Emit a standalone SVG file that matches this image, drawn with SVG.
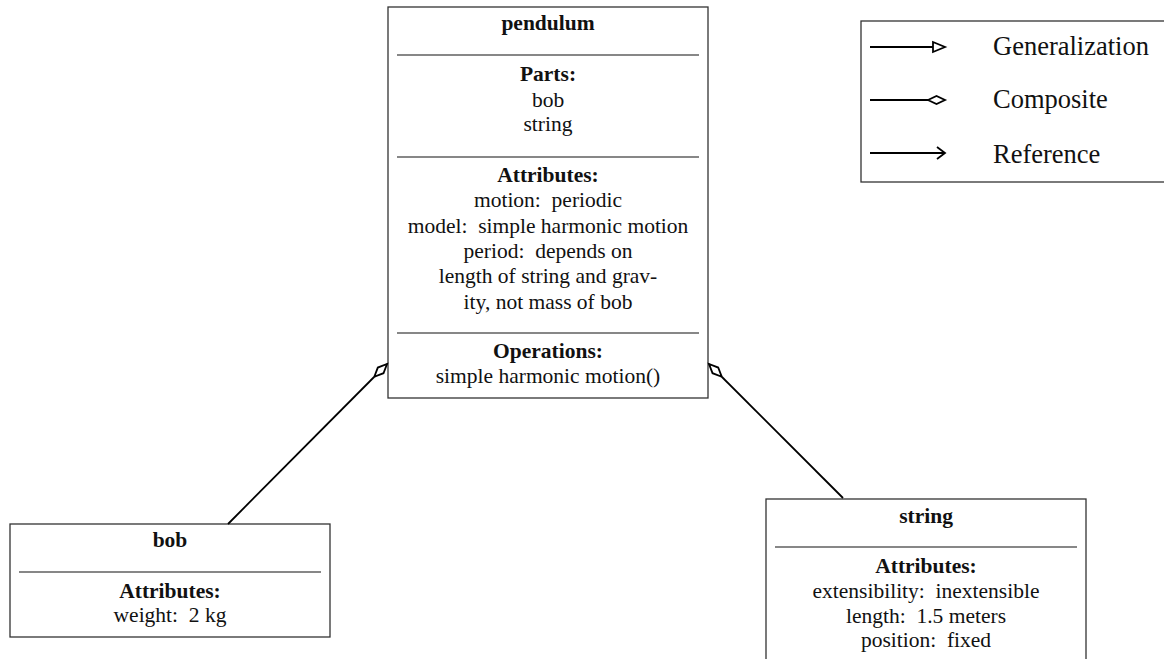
<svg xmlns="http://www.w3.org/2000/svg" width="1164" height="659" viewBox="0 0 1164 659">
<style>
.box{fill:#fff;stroke:#333;stroke-width:1.3}
.div{stroke:#111;stroke-width:1.2}
.t{font-family:"Liberation Serif","Times New Roman",serif;font-size:21.5px;fill:#111;text-anchor:middle;white-space:pre}
.b{font-weight:bold}
.lg{font-family:"Liberation Serif","Times New Roman",serif;font-size:26.5px;fill:#111}
.conn{stroke:#000;stroke-width:1.8;fill:none}
</style>
<defs>
<marker id="diamond" markerUnits="userSpaceOnUse" markerWidth="22" markerHeight="12" refX="18" refY="5" orient="auto">
<path d="M0,5 L9,1 L18,5 L9,9 Z" fill="#fff" stroke="#000" stroke-width="1.8"/>
</marker>
</defs>
<rect width="1164" height="659" fill="#fff"/>
<g id="pendulum">
<rect class="box" x="388" y="7" width="320" height="391"/>
<line class="div" x1="397" y1="55" x2="699" y2="55"/>
<line class="div" x1="397" y1="157" x2="699" y2="157"/>
<line class="div" x1="397" y1="333" x2="699" y2="333"/>
<text class="t b" x="548" y="30">pendulum</text>
<text class="t b" x="548" y="81">Parts:</text>
<text class="t" x="548" y="107">bob</text>
<text class="t" x="548" y="131">string</text>
<text class="t b" x="548" y="182">Attributes:</text>
<text class="t" x="548" y="207">motion:  periodic</text>
<text class="t" x="548" y="233">model:  simple harmonic motion</text>
<text class="t" x="548" y="258">period:  depends on</text>
<text class="t" x="548" y="283">length of string and grav-</text>
<text class="t" x="548" y="309">ity, not mass of bob</text>
<text class="t b" x="548" y="358">Operations:</text>
<text class="t" x="548" y="383">simple harmonic motion()</text>
</g>
<g id="bob">
<rect class="box" x="10" y="524" width="320" height="113"/>
<line class="div" x1="19" y1="572" x2="321" y2="572"/>
<text class="t b" x="170" y="547">bob</text>
<text class="t b" x="170" y="598">Attributes:</text>
<text class="t" x="170" y="622">weight:  2 kg</text>
</g>
<g id="string">
<rect class="box" x="766" y="499" width="320" height="180"/>
<line class="div" x1="775" y1="547" x2="1077" y2="547"/>
<text class="t b" x="926" y="523">string</text>
<text class="t b" x="926" y="573">Attributes:</text>
<text class="t" x="926" y="598">extensibility:  inextensible</text>
<text class="t" x="926" y="623">length:  1.5 meters</text>
<text class="t" x="926" y="647">position:  fixed</text>
</g>
<g id="connectors">
<line class="conn" x1="228" y1="524" x2="387" y2="364" marker-end="url(#diamond)"/>
<line class="conn" x1="843" y1="498" x2="709" y2="364" marker-end="url(#diamond)"/>
</g>
<g id="legend">
<rect class="box" x="861" y="21" width="320" height="161"/>
<line class="conn" x1="870" y1="47" x2="933" y2="47"/>
<path d="M933,42 L945,47 L933,52 Z" fill="#fff" stroke="#000" stroke-width="1.8"/>
<line class="conn" x1="870" y1="100" x2="928" y2="100"/>
<path d="M928,100 L936.5,96 L945,100 L936.5,104 Z" fill="#fff" stroke="#000" stroke-width="1.8"/>
<line class="conn" x1="870" y1="153" x2="944" y2="153"/>
<path d="M937,147 L945,153 L937,159" fill="none" stroke="#000" stroke-width="1.8"/>
<text class="lg" x="993" y="55">Generalization</text>
<text class="lg" x="993" y="108">Composite</text>
<text class="lg" x="993" y="163">Reference</text>
</g>
</svg>
